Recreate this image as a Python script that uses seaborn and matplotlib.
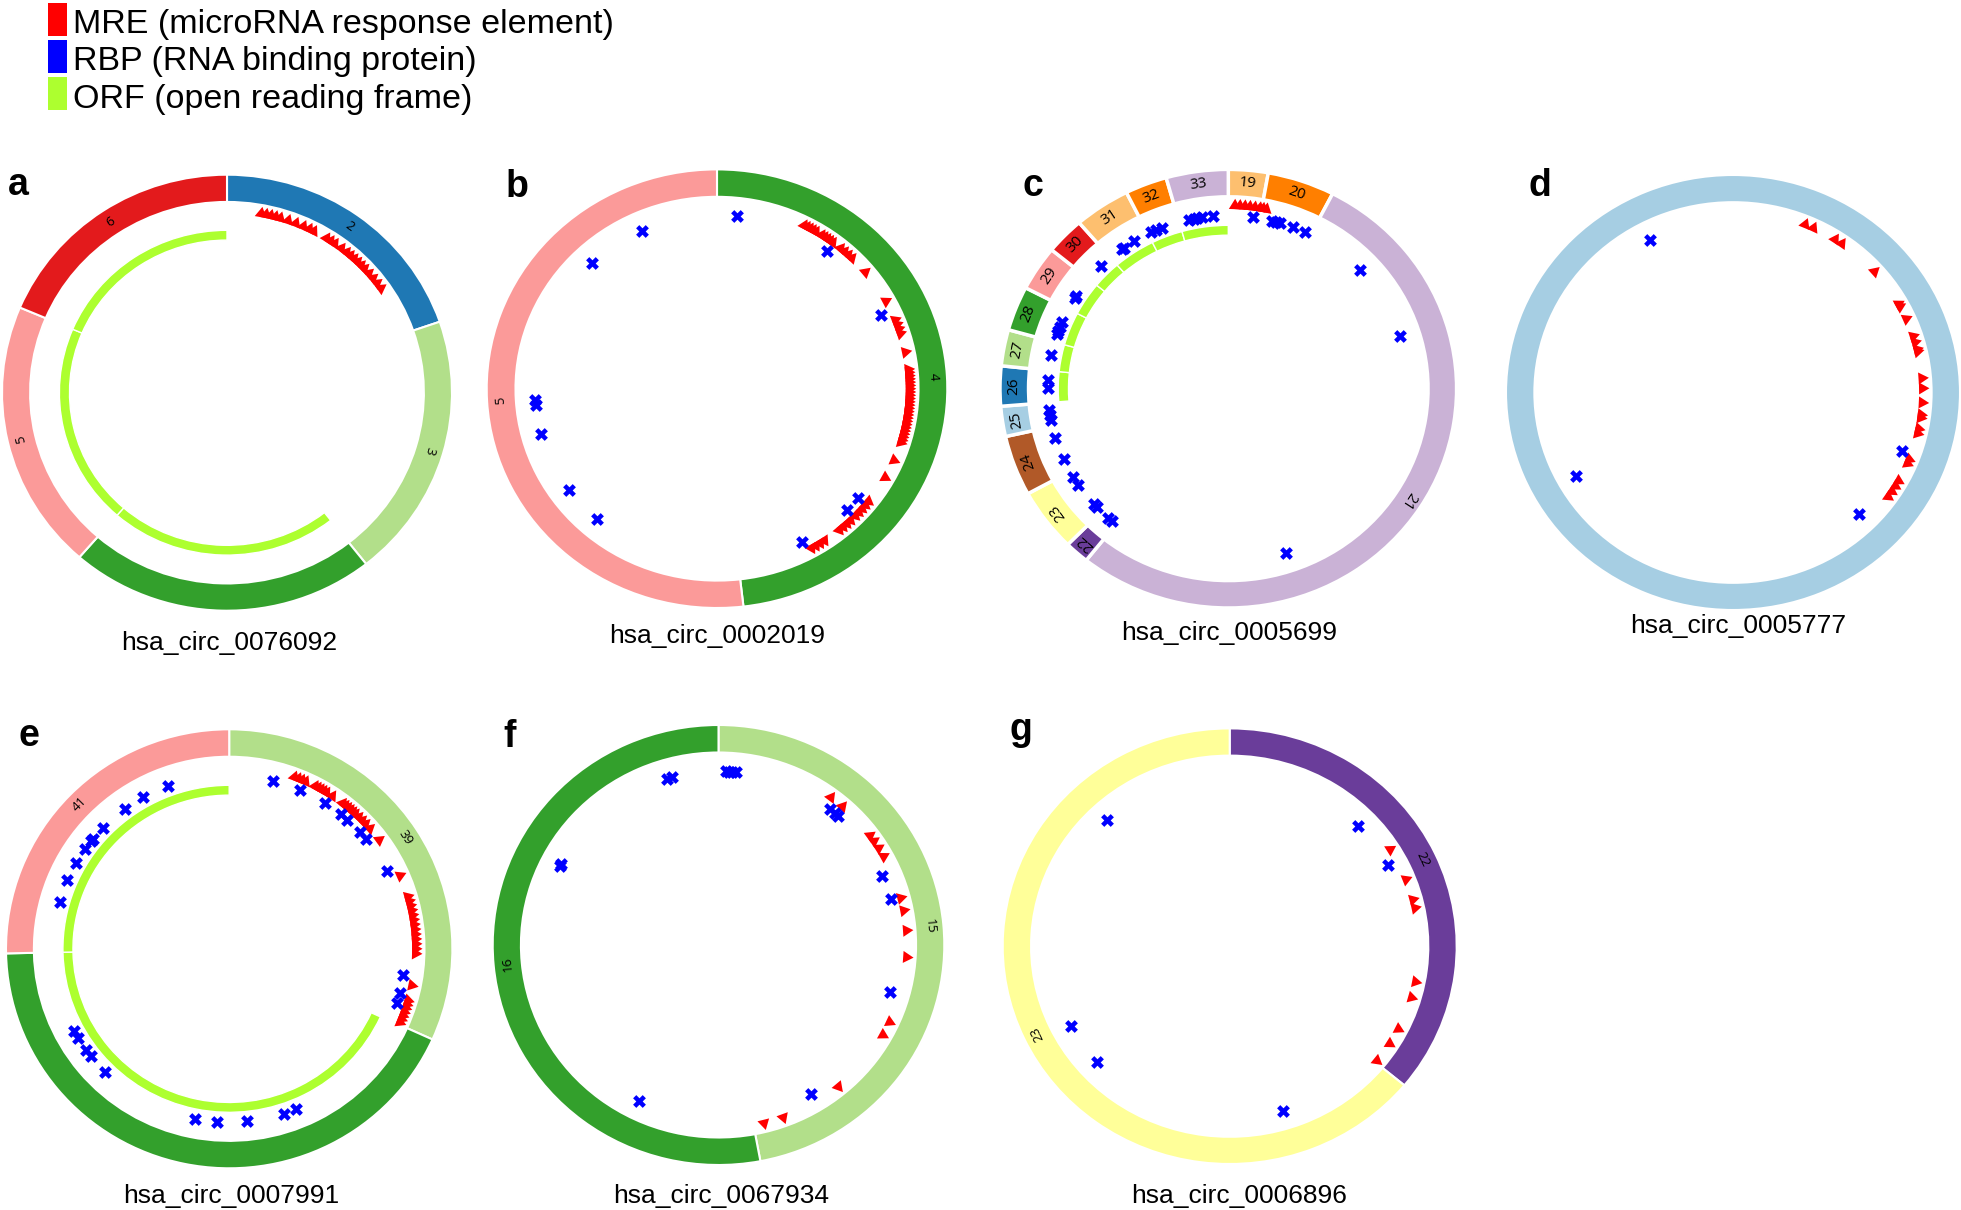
import numpy as np
import pandas as pd
import matplotlib
matplotlib.use("Agg")
import matplotlib.pyplot as plt
from matplotlib.patches import Wedge, Rectangle
import seaborn as sns

W, H = 1961, 1210

# angles: degrees clockwise from 12 o'clock
# a: hsa_circ_0076092
a_exons = ["2", "3", "4", "5", "6"]
a_lengths = [71.0, 70.8, 79.2, 72.0, 67.0]
a_labels = ["2", "3", "", "5", "6"]
a_mre = [10.5, 12, 13.5, 15, 16.5, 19, 21.5, 24, 26, 27.5,
         32, 33.5, 35, 37.5, 39.5, 41, 42.5, 44, 45.5, 47, 49, 51, 53, 55]
a_rbp = []
a_orf = [141.8, 360.0]

# b: hsa_circ_0002019
b_exons = ["4", "5"]
b_lengths = [173.4, 186.6]
b_labels = ["4", "5"]
b_mre = [27, 28, 29, 30, 31, 33, 34, 35, 36, 37, 40, 41.5, 43, 44.5, 50.5, 61.5,
         68, 69.5, 71, 72.5, 78.5,
         84, 85, 86, 87, 88, 89, 90, 91, 92, 93, 94, 95, 96, 97, 98, 99, 100,
         101, 102, 103, 104, 105, 106, 107, 113, 119,
         128, 129.5, 131, 132.5, 134, 136, 137.5, 139, 140.5,
         146, 147.5, 149, 150.5]
b_rbp = [6.2, 335.8, 316.4, 37.3, 64.7, 266.4, 264.6, 254.8, 234.4, 221.2,
         129, 134.5, 152.3]
b_orf = []

# c: hsa_circ_0005699
c_exons = ["19", "20", "21", "22", "23", "24", "25", "26", "27", "28", "29",
           "30", "31", "32", "33"]
c_lengths = [10.1, 17.1, 191.3, 6.2, 16.7, 16.0, 8.0, 10.6, 9.6, 11.8, 11.9,
             9.9, 14.3, 10.7, 15.8]
c_labels = c_exons
c_mre = [2, 3.5, 5, 6.5, 8, 9.5, 10.5, 11.5]
c_rbp = [355.2, 351.5, 350, 349, 347.5, 338.4, 336.5, 334.5, 328.6, 324.5, 323.9,
         315, 302.5, 301.5, 292.5, 291, 289.5, 288.3, 281.2, 272.9, 270.2,
         263, 261.3, 259.7, 253.4, 246, 239.2, 236.3, 228.3, 226.8, 221.7, 220.3,
         8, 14, 15.2, 16.5, 21.1, 25.1, 46.8, 72.2, 161.5]
c_orf = [265.4, 360.0]

# d: hsa_circ_0005777
d_exons = ["1"]
d_lengths = [360.0]
d_labels = [""]
d_mre = [22.4, 25.1, 32.6, 35, 48.3, 60.9, 61.8, 66.1, 72, 74, 76.3, 77,
         85.5, 88.7, 93.2, 97, 98, 101.5, 103, 111.6, 113, 119.1, 121, 123, 125]
d_rbp = [332.3, 240.8, 110, 135.2]
d_orf = []

# e: hsa_circ_0007991
e_exons = ["39", "40", "41"]
e_lengths = [114.4, 154.4, 91.2]
e_labels = ["39", "", "41"]
e_mre = [20.5, 21.8, 23, 24.2, 27.5, 28.5, 29.5, 30.5, 31.5, 33.6,
         37.5, 38.5, 39.5, 40.5, 41.5, 42.5, 44, 45.5, 47, 49, 53.6, 66.5,
         73.5, 75, 76.5, 78, 79.5, 81, 82.5, 84, 85.5, 87, 88.5, 90, 91.5, 101.5,
         106.3, 107.5, 108.7, 110, 111.2, 112.4, 113.6]
e_rbp = [14.5, 23.5, 33, 39.2, 41.9, 47.8, 50.8, 63.4, 98.7, 104.8, 108.3,
         339.8, 330.8, 323.9, 314.3, 309.4, 308.3, 305.3, 299.6, 293.4, 285.8,
         241.8, 238.9, 234.2, 231.8, 224.6, 191.2, 184.1, 174.1, 162, 157.9]
e_orf = [114.6, 360.0]

# f: hsa_circ_0067934
f_exons = ["15", "16"]
f_lengths = [169.3, 190.7]
f_labels = ["15", "16"]
f_mre = [36.6, 41.1, 53.5, 55.6, 58.2, 61.2, 75.2, 79.2, 85.5, 93.8, 114.8,
         119.3, 140.5, 159.9, 166]
f_rbp = [343.1, 344.9, 2.5, 3.5, 4.5, 5.5, 297.8, 297.2, 38.7, 40.8, 42.2,
         66.5, 74.7, 105.6, 148.9, 206.4]
f_orf = []

# g: hsa_circ_0006896
g_exons = ["22", "23"]
g_lengths = [129.7, 230.3]
g_labels = ["22", "23"]
g_mre = [57.9, 68.5, 75.2, 77.9, 101.3, 106.4, 117.1, 122.4, 129]
g_rbp = [317, 45.9, 61.8, 242.4, 227.7, 162.8]
g_orf = []

legend_names = ["MRE (microRNA response element)", "RBP (RNA binding protein)",
                "ORF (open reading frame)"]

sns.set_theme(style="white")
plt.rcParams["font.family"] = ["Liberation Sans", "DejaVu Sans"]
plt.rcParams["text.color"] = "black"

paired = sns.color_palette("Paired", 12)
mre_color = "#ff0000"
rbp_color = "#0000ff"
orf_color = "#adff2f"

fig = plt.figure(figsize=(W / 100, H / 100), dpi=100)


def px(x, y):
    return x / W, 1 - y / H


def draw_panel(ax, exons, lengths, labels, mre, rbp, orf, lab_size, gap):
    edges = np.concatenate([[0], np.cumsum(lengths)])
    for i, ex in enumerate(exons):
        t1, t2 = edges[i], edges[i + 1]
        col = paired[(int(ex) - 1) % 12]
        ax.add_patch(Wedge((0, 0), 1.0, 90 - t2, 90 - t1, width=0.125,
                           facecolor=col, edgecolor="white", linewidth=gap))
        if labels[i]:
            mid = np.deg2rad((t1 + t2) / 2)
            ax.text(0.94 * np.sin(mid), 0.94 * np.cos(mid), labels[i],
                    rotation=-np.rad2deg(mid), rotation_mode="anchor",
                    ha="center", va="center", fontsize=lab_size, color="black",
                    family=["Open Sans", "DejaVu Sans"])
        # ORF pieces follow the exon boundaries
        if orf:
            o1, o2 = max(t1, orf[0]), min(t2, orf[1])
            if o2 > o1:
                ax.add_patch(Wedge((0, 0), 0.745, 90 - o2, 90 - o1, width=0.045,
                                   facecolor=orf_color, edgecolor="white",
                                   linewidth=1.0))
    if mre:
        t = np.deg2rad(np.array(mre, dtype=float))
        dfm = pd.DataFrame({"x": 0.835 * np.sin(t), "y": 0.835 * np.cos(t),
                            "rot": np.round(-np.rad2deg(t)).astype(int)})
        markers = {r: (3, 0, r) for r in dfm["rot"].unique()}
        sns.scatterplot(data=dfm, x="x", y="y", style="rot", markers=markers,
                        color=mre_color, s=100, linewidth=0, legend=False, ax=ax)
    if rbp:
        t = np.deg2rad(np.array(rbp, dtype=float))
        dfr = pd.DataFrame({"x": 0.79 * np.sin(t), "y": 0.79 * np.cos(t)})
        sns.scatterplot(data=dfr, x="x", y="y", marker="X", color=rbp_color,
                        s=85, linewidth=0, legend=False, ax=ax)
    ax.set_xlim(-1.06, 1.06)
    ax.set_ylim(-1.06, 1.06)
    ax.set_axis_off()
    ax.patch.set_visible(False)


panels = [
    dict(letter="a", name="hsa_circ_0076092", cx=227, cy=392.7, rx=225, ry=218,
         lx=8, ly=195, tx=229, ty=650,
         data=(a_exons, a_lengths, a_labels, a_mre, a_rbp, a_orf), ls=9.5, gap=1.5),
    dict(letter="b", name="hsa_circ_0002019", cx=717, cy=388.7, rx=230.3, ry=219.3,
         lx=506, ly=197, tx=717, ty=643,
         data=(b_exons, b_lengths, b_labels, b_mre, b_rbp, b_orf), ls=9.5, gap=1.5),
    dict(letter="c", name="hsa_circ_0005699", cx=1228.3, cy=388.7, rx=228.3, ry=219.3,
         lx=1023, ly=196, tx=1229, ty=640,
         data=(c_exons, c_lengths, c_labels, c_mre, c_rbp, c_orf), ls=11, gap=2.5),
    dict(letter="d", name="hsa_circ_0005777", cx=1733, cy=392.5, rx=227, ry=217.5,
         lx=1528, ly=196, tx=1738, ty=633,
         data=(d_exons, d_lengths, d_labels, d_mre, d_rbp, d_orf), ls=9.5, gap=1.5),
    dict(letter="e", name="hsa_circ_0007991", cx=229.2, cy=948.8, rx=223.2, ry=219.5,
         lx=18, ly=746, tx=231, ty=1203,
         data=(e_exons, e_lengths, e_labels, e_mre, e_rbp, e_orf), ls=9.5, gap=1.5),
    dict(letter="f", name="hsa_circ_0067934", cx=718.5, cy=945, rx=225.8, ry=220,
         lx=503, ly=747, tx=721, ty=1203,
         data=(f_exons, f_lengths, f_labels, f_mre, f_rbp, f_orf), ls=9.5, gap=1.5),
    dict(letter="g", name="hsa_circ_0006896", cx=1229.7, cy=946.2, rx=227, ry=217.8,
         lx=1010, ly=740, tx=1239, ty=1203,
         data=(g_exons, g_lengths, g_labels, g_mre, g_rbp, g_orf), ls=9.5, gap=1.5),
]

for p in panels:
    m = 1.06
    left = (p["cx"] - m * p["rx"]) / W
    bottom = 1 - (p["cy"] + m * p["ry"]) / H
    ax = fig.add_axes([left, bottom, 2 * m * p["rx"] / W, 2 * m * p["ry"] / H])
    draw_panel(ax, *p["data"], lab_size=p["ls"], gap=p["gap"])
    fig.text(*px(p["lx"], p["ly"]), p["letter"], fontsize=27, fontweight="bold",
             ha="left", va="baseline", color="black")
    fig.text(*px(p["tx"], p["ty"]), p["name"], fontsize=19, ha="center",
             va="baseline", color="black")

# legend at top-left
leg_colors = [mre_color, rbp_color, orf_color]
box_y = [3, 40, 77]
text_base = [33, 70, 108]
for name, col, by, tb in zip(legend_names, leg_colors, box_y, text_base):
    x0, y0 = px(48, by + 33)
    fig.add_artist(Rectangle((x0, y0), 19 / W, 33 / H, facecolor=col,
                             edgecolor="none", transform=fig.transFigure))
    fig.text(*px(73, tb), name, fontsize=24.5, ha="left", va="baseline",
             color="black", family=["Liberation Sans", "DejaVu Sans"])

fig.savefig("out.png", dpi=100, facecolor="white")
